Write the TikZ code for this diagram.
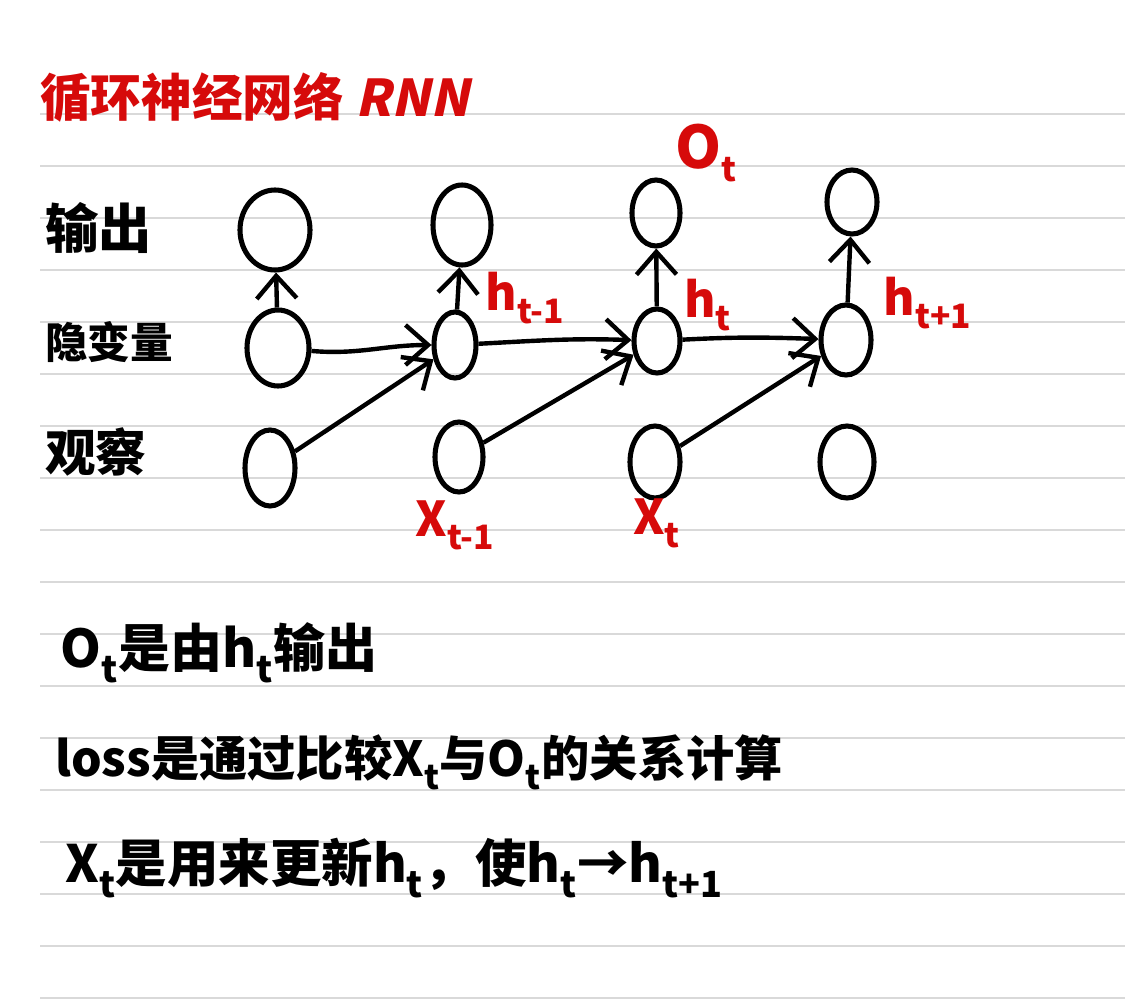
\documentclass[tikz,border=0pt]{standalone}
\usepackage{fontspec}
\newfontfamily\cjk{Noto Sans CJK SC}
\newfontfamily\cjkit{Noto Sans CJK SC}[FakeSlant=0.22]
\usetikzlibrary{shapes.geometric,arrows.meta}
\definecolor{inkred}{HTML}{D60A0A}
\definecolor{ruleline}{HTML}{D9D9D9}
\begin{document}
\begin{tikzpicture}[x=0.75pt,y=-0.75pt,
  cell/.style={ellipse,draw=black,line width=3.8pt,inner sep=0pt},
  flow/.style={line width=3.3pt,-{Straight Barb[length=17pt,width=30pt,line width=3.3pt]}},
  redlab/.style={text=inkred,inner sep=0pt,font=\cjk\bfseries\fontsize{36}{36}\selectfont},
  rowlab/.style={text=black,inner sep=0pt,anchor=west,font=\cjk\bfseries\fontsize{40}{40}\selectfont},
  note/.style={text=black,inner sep=0pt,anchor=west,font=\cjk\bfseries\fontsize{37}{37}\selectfont}
]
\useasboundingbox (0,0) rectangle (1125,1000);
\fill[white] (0,0) rectangle (1125,1000);
\foreach \k in {0,...,17}
  \draw[ruleline,line width=1.1pt] (40,{114+52*\k}) -- (1125,{114+52*\k});

% title
\node[anchor=west,text=inkred,inner sep=0pt,font=\cjk\bfseries\fontsize{38}{38}\selectfont] (title) at (40,97) {循环神经网络 {\cjkit\bfseries RNN}};

% row labels
\node[rowlab] (lout) at (45,228) {输出};
\node[rowlab,font=\cjk\bfseries\fontsize{32}{32}\selectfont] (lhid) at (45,342) {隐变量};
\node[rowlab,font=\cjk\bfseries\fontsize{38}{38}\selectfont] (lobs) at (45,452) {观察};

% output row
\node[cell,minimum width=52.5pt,minimum height=60pt] (o1) at (275,230) {};
\node[cell,minimum width=43.5pt,minimum height=60pt] (o2) at (462,225) {};
\node[cell,minimum width=36pt,minimum height=49.5pt] (o3) at (656,213) {};
\node[cell,minimum width=37.5pt,minimum height=48pt] (o4) at (852,202) {};
% hidden row
\node[cell,minimum width=46.5pt,minimum height=57pt] (h1) at (278,348) {};
\node[cell,minimum width=31.5pt,minimum height=49.5pt] (h2) at (455,345) {};
\node[cell,minimum width=34.5pt,minimum height=48pt] (h3) at (657,341) {};
\node[cell,minimum width=37.5pt,minimum height=52.5pt] (h4) at (846,340) {};
% observation row
\node[cell,minimum width=37.5pt,minimum height=57pt] (x1) at (270,468) {};
\node[cell,minimum width=36pt,minimum height=52.5pt] (x2) at (459,457) {};
\node[cell,minimum width=37.5pt,minimum height=54pt] (x3) at (655,462) {};
\node[cell,minimum width=40.5pt,minimum height=54pt] (x4) at (847,462) {};

% hidden -> output
\draw[flow] (h1) -- (o1);
\draw[flow] (h2) -- (o2);
\draw[flow] (h3) -- (o3);
\draw[flow] (h4) -- (o4);
% hidden -> hidden
\draw[flow] (h1) to[out=-5,in=180] (h2);
\draw[flow] (h2) to[out=3,in=178] (h3);
\draw[flow] (h3) to[out=3,in=178] (h4);
% observation -> hidden
\draw[flow] (x1) -- (h2);
\draw[flow] (x2) -- (h3);
\draw[flow] (x3) -- (h4);

% red labels
\node[redlab] (lot) at (706,153) {{\fontsize{44}{44}\selectfont O}\textsubscript{t}};
\node[redlab] (lht1) at (525,298) {h\textsubscript{t-1}};
\node[redlab] (lht) at (708,305) {h\textsubscript{t}};
\node[redlab] (lht2) at (928,303) {h\textsubscript{t+1}};
\node[redlab] (lxt1) at (455,525) {X\textsubscript{t-1}};
\node[redlab] (lxt) at (657,523) {X\textsubscript{t}};

% notes
\node[note,font=\cjk\bfseries\fontsize{39}{39}\selectfont] (n1) at (60,653) {O\textsubscript{t}是由h\textsubscript{t}输出};
\node[note,font=\cjk\bfseries\fontsize{36.2}{36.2}\selectfont] (n2) at (55,762) {loss是通过比较X\textsubscript{t}与O\textsubscript{t}的关系计算};
\node[note,font=\cjk\bfseries\fontsize{38.6}{38.6}\selectfont] (n3) at (65,868) {X\textsubscript{t}是用来更新h\textsubscript{t}，使h\textsubscript{t}→h\textsubscript{t+1}};
\end{tikzpicture}
\end{document}
